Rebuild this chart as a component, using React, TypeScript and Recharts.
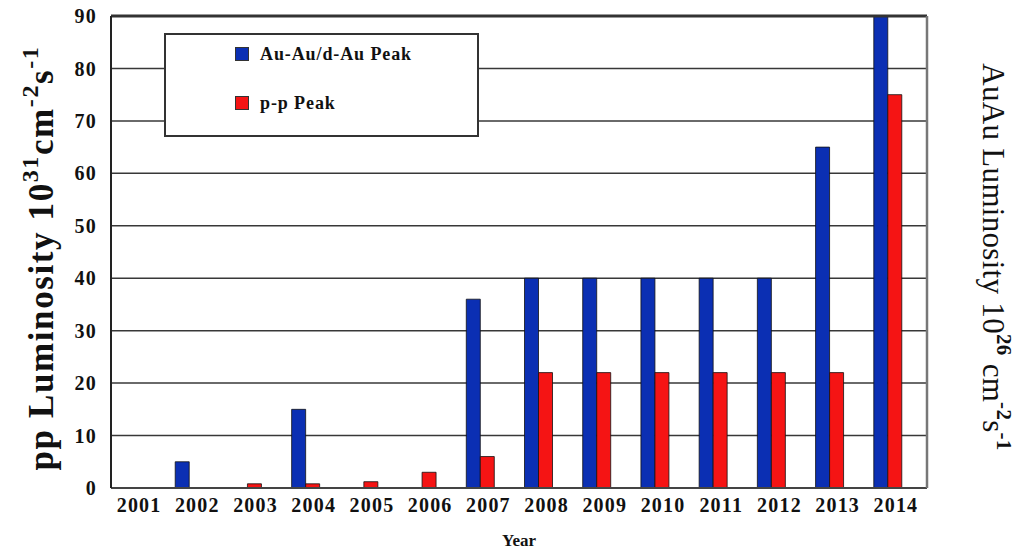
import React from 'react'
import {
  BarChart, Bar, XAxis, YAxis, CartesianGrid, ReferenceLine,
} from 'recharts'

const years = ['2001', '2002', '2003', '2004', '2005', '2006', '2007', '2008', '2009', '2010', '2011', '2012', '2013', '2014']
const auPeak = [0, 5, 0, 15, 0, 0, 36, 40, 40, 40, 40, 40, 65, 90]
const ppPeak = [0, 0, 0.8, 0.8, 1.2, 3, 6, 22, 22, 22, 22, 22, 22, 75]
const yTicks = [0, 10, 20, 30, 40, 50, 60, 70, 80, 90]

const data = years.map((y, i) => ({ year: y, au: auPeak[i], pp: ppPeak[i] }))

const SERIF = '"Liberation Serif", "DejaVu Serif", serif'
const BLUE = '#0b2fb3'
const RED = '#f51414'

const tickStyle = { fontFamily: SERIF, fontWeight: 700, fontSize: 20, fill: '#111', letterSpacing: 1.2 }

// legend drawn as an overlay box, like the original figure
function LegendBox() {
  const row = (color: string, text: string) => (
    <div style={{ display: 'flex', alignItems: 'center', height: 24 }}>
      <span style={{
        width: 12, height: 12, background: color, border: '1px solid #333',
        display: 'inline-block', marginRight: 11,
      }} />
      <span style={{ fontFamily: SERIF, fontWeight: 700, fontSize: 18, color: '#111', letterSpacing: 0.9 }}>{text}</span>
    </div>
  )
  return (
    <div style={{
      position: 'absolute', left: 164, top: 33, width: 311, height: 100,
      border: '2px solid #333', background: '#fff',
    }}>
      <div style={{ paddingLeft: 69, paddingTop: 7 }}>
        {row(BLUE, 'Au-Au/d-Au Peak')}
        <div style={{ height: 25 }} />
        {row(RED, 'p-p Peak')}
      </div>
    </div>
  )
}

function LeftTitle() {
  return (
    <text
      transform="translate(53, 258) rotate(-90)"
      textAnchor="middle"
      style={{ fontFamily: SERIF, fontWeight: 700, fontSize: 35, fill: '#111', letterSpacing: 1.6 }}
    >
      pp Luminosity 10<tspan dy={-15} fontSize={24}>31</tspan>
      <tspan dy={15}>cm</tspan>
      <tspan dy={-15} fontSize={24}>-2</tspan>
      <tspan dy={15}>s</tspan>
      <tspan dy={-15} fontSize={24}>-1</tspan>
    </text>
  )
}

function RightTitle() {
  return (
    <text
      transform="translate(983, 257) rotate(90)"
      textAnchor="middle"
      style={{ fontFamily: SERIF, fontWeight: 400, fontSize: 31, fill: '#111', letterSpacing: 0.3 }}
    >
      AuAu Luminosity 10<tspan dy={-14} fontSize={21} fontWeight={700}>26</tspan>
      <tspan dy={14}> cm</tspan>
      <tspan dy={-14} fontSize={21} fontWeight={700}>-2</tspan>
      <tspan dy={14}>s</tspan>
      <tspan dy={-14} fontSize={21} fontWeight={700}>-1</tspan>
    </text>
  )
}

export default function App() {
  return (
    <div style={{ position: 'absolute', left: 0, top: 0, width: 1030, height: 553, background: '#fff' }}>
      <BarChart
        width={1030}
        height={553}
        data={data}
        margin={{ top: 16, right: 43, left: 51, bottom: 25 }}
        barGap={0}
        barSize={14}
      >
        <CartesianGrid yAxisId="left" vertical={false} stroke="#383838" strokeWidth={1.5} />
        <XAxis
          dataKey="year"
          padding={{ left: -9, right: 10 }}
          height={40}
          tickLine={false}
          axisLine={{ stroke: '#444', strokeWidth: 2 }}
          tick={{ ...tickStyle, dx: 8 }}
          tickMargin={4}
          interval={0}
          label={{ value: 'Year', position: 'insideBottom', offset: -18, style: { fontFamily: SERIF, fontWeight: 700, fontSize: 17, fill: '#111' } }}
        />
        <YAxis
          yAxisId="left"
          domain={[0, 90]}
          ticks={yTicks}
          width={60}
          tickLine={false}
          axisLine={{ stroke: '#222', strokeWidth: 2 }}
          tick={tickStyle}
          tickMargin={8}
          label={{ content: () => <LeftTitle /> }}
        />
        <YAxis
          yAxisId="right"
          orientation="right"
          domain={[0, 90]}
          ticks={yTicks}
          width={60}
          tickLine={false}
          axisLine={{ stroke: '#777', strokeWidth: 2.5 }}
          tick={tickStyle}
          tickMargin={6}
          label={{ content: () => <RightTitle /> }}
        />
        <ReferenceLine yAxisId="left" y={90} stroke="#333" strokeWidth={3} />
        <Bar yAxisId="left" dataKey="au" name="Au-Au/d-Au Peak" fill={BLUE} stroke="#111" strokeWidth={0.8} isAnimationActive={false} />
        <Bar yAxisId="left" dataKey="pp" name="p-p Peak" fill={RED} stroke="#111" strokeWidth={0.8} isAnimationActive={false} />
      </BarChart>
      <LegendBox />
    </div>
  )
}
